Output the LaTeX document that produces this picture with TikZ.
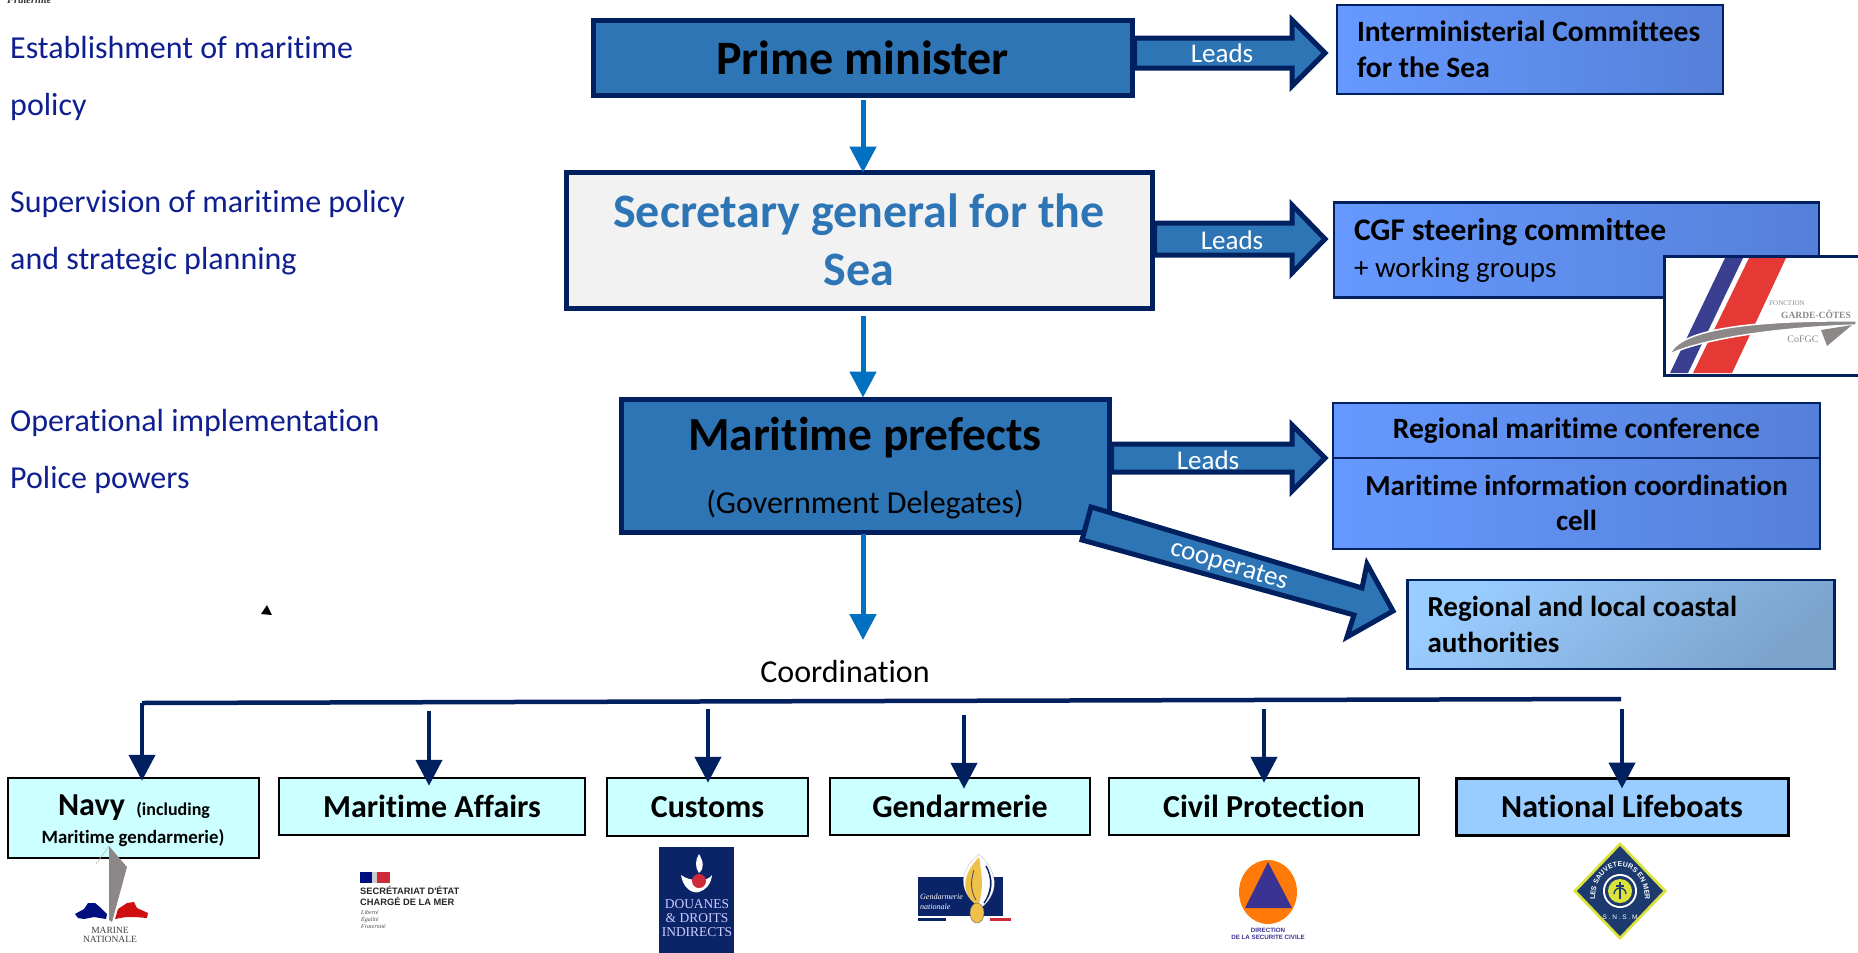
\documentclass[tikz,border=0pt]{standalone}
\usepackage{fontspec}
\setmainfont[Ligatures=NoCommon]{Carlito}
\newfontfamily\serifb{Liberation Serif}
\newfontfamily\arialn{Liberation Sans}
\usetikzlibrary{arrows.meta,calc,shapes.geometric,decorations.text}
\definecolor{navyb}{HTML}{002060}
\definecolor{midb}{HTML}{2E75B6}
\definecolor{lineb}{HTML}{0070C0}
\definecolor{sideb}{HTML}{0F1F8F}
\definecolor{cyanb}{HTML}{CCFFFF}
\definecolor{skyb}{HTML}{99CCFF}
\definecolor{skyd}{HTML}{7BA3CC}
\definecolor{grayl}{HTML}{8C8888}
\definecolor{blueL}{HTML}{6699FF}
\definecolor{blueR}{HTML}{5580D8}
\definecolor{HTML3A}{HTML}{3A3F8F}
\definecolor{HTMLE3}{HTML}{E53935}
\definecolor{HTMLN}{HTML}{000F80}
\definecolor{HTMLR}{HTML}{D01010}
\definecolor{HTMLRR}{HTML}{CE2A3A}
\definecolor{HTMLD}{HTML}{0B2468}
\definecolor{HTMLG}{HTML}{EFC04A}
\definecolor{HTMLO}{HTML}{FF7A08}
\definecolor{HTMLV}{HTML}{3A3394}
\definecolor{HTMLY}{HTML}{DCE23C}
\definecolor{HTMLS}{HTML}{1C3A6E}
\newcommand{\fs}[1]{\fontsize{#1}{#1}\selectfont}
\newcommand{\fsl}[2]{\fontsize{#1}{#2}\selectfont}
\tikzset{
  x=1pt,y=-1pt,
  mainbox/.style={draw=navyb,line width=5pt,fill=midb,inner sep=0pt,align=center,line join=miter},
  gradbox/.style={draw=navyb,line width=2.5pt,left color=blueL,right color=blueR,inner sep=0pt},
  orgbox/.style={draw=black,line width=2.5pt,fill=cyanb,inner sep=0pt,align=center,font=\bfseries\fs{32}},
  sidetext/.style={text=sideb,align=left,anchor=west,inner sep=0pt,font=\fsl{32}{57}},
  blockarrow/.style={draw=navyb,line width=5pt,fill=midb,line join=miter,miter limit=10},
  leadlabel/.style={text=white,inner sep=0pt,font=\fs{27}},
  flowarrow/.style={draw=lineb,line width=5pt,-{Triangle[length=26pt,width=26pt]}},
  droparrow/.style={draw=navyb,line width=4.5pt,-{Triangle[length=26pt,width=26pt]}},
}
\newcommand{\blockarrow}[4]{% start, tip, shaft half, head half
  \draw[blockarrow] ($(#1)+(0,-#3)$) -- ($(#2)+(-33,-#3)$) -- ($(#2)+(-33,-#4)$) -- (#2)
     -- ($(#2)+(-33,#4)$) -- ($(#2)+(-33,#3)$) -- ($(#1)+(0,#3)$) -- cycle;}
\begin{document}
\begin{tikzpicture}
\useasboundingbox (0,0) rectangle (1858,953);
\clip (0,0) rectangle (1858,953);
\fill[white] (0,0) rectangle (1858,953);

% clipped fragment at the top
\node[anchor=base west,inner sep=0pt,text=black!80,font=\serifb\bfseries\itshape\fs{10.5}] (frat) at (7,3) {Fraternité};

% left column
\node[sidetext] (s1) at (10,78) {Establishment of maritime\\policy};
\node[sidetext] (s2) at (10,233) {Supervision of maritime policy\\and strategic planning};
\node[sidetext] (s3) at (10,451) {Operational implementation\\Police powers};

% main boxes
\node[mainbox,minimum width=539pt,minimum height=75pt,font=\bfseries\fs{48}] (pm) at (862.5,57.5) {Prime minister};
\node[mainbox,fill=black!5,text=midb,minimum width=586pt,minimum height=136pt,font=\bfseries\fsl{48}{58}] (sg) at (859,240) {Secretary general for the\\Sea};
\node[mainbox,minimum width=488pt,minimum height=133pt] (mp) at (865,465.5)
  {\rule{0pt}{6pt}\\[-2pt]\bfseries\fs{47.5}Maritime prefects\\[31pt]\fs{32}\mdseries(Government Delegates)};

% right boxes
\node[gradbox,minimum width=386pt,minimum height=89pt,inner xsep=20pt,text width=346pt,align=flush left,font=\bfseries\fsl{29.5}{36}] (imc) at (1530,49.5) {Interministerial Committees\\for the Sea};
\node[gradbox,minimum width=485pt,minimum height=95pt,inner xsep=20pt,text width=445pt,align=flush left,font=\fsl{29}{37}] (cgf) at (1576.5,250) {{\bfseries\fs{31.5}CGF steering committee}\\+ working groups};
\node[gradbox,minimum width=487pt,minimum height=55pt,align=center,font=\bfseries\fs{29.5}] (rc1) at (1576.5,430.5) {Regional maritime conference};
\node[gradbox,minimum width=487pt,minimum height=91pt,align=center,font=\bfseries\fsl{29}{35}] (rc2) at (1576.5,503.5) {\raisebox{1pt}{Maritime information coordination}\\\raisebox{1pt}{cell}};
\node[draw=navyb,line width=2.5pt,left color=skyb,right color=skyd,shading angle=40,inner sep=0pt,minimum width=427pt,minimum height=89pt,inner xsep=20pt,text width=387pt,align=flush left,font=\bfseries\fsl{29}{36}] (rla) at (1621,624.5) {Regional and local coastal\\authorities};

% block arrows
\coordinate (t1) at (1325,53);
\coordinate (t2) at (1325,239);
\coordinate (t3) at (1325,458);
\blockarrow{pm.east |- t1}{t1}{15}{33}
\blockarrow{sg.east |- t2}{t2}{16}{34}
\blockarrow{mp.east |- t3}{t3}{14}{33}
\node[leadlabel] (l1) at (1222,53) {Leads};
\node[leadlabel] (l2) at (1232,240) {Leads};
\node[leadlabel] (l3) at (1208,460) {Leads};

\coordinate (c1) at (1091,507);
\coordinate (c2) at (1082,540);
\coordinate (c3) at (1362,588);
\coordinate (c4) at (1367,564);
\coordinate (c5) at (1393,611);
\coordinate (c6) at (1347,637);
\coordinate (c7) at (1354,615);
\draw[blockarrow] (c1) -- (c3) -- (c4) -- (c5) -- (c6) -- (c7) -- (c2) -- cycle;
\node[leadlabel,rotate=-17] (l4) at (1229,566) {cooperates};

% blue flow arrows
\coordinate (f1) at (863,100);
\draw[flowarrow,shorten >=-3pt] (f1) -- (f1 |- sg.north);
\coordinate (f2) at (863,316);
\draw[flowarrow,shorten >=-1pt] (f2) -- (f2 |- mp.north);
\coordinate (f3) at (863,534);
\coordinate (f3e) at (863,640);
\draw[flowarrow] (f3) -- (f3e);

\node[inner sep=0pt,font=\fs{32}] (coord) at (845,671) {Coordination};

% coordination bar
\coordinate (b0) at (142,703);
\coordinate (b7) at (1621,699);
\draw[navyb,line width=4.5pt] (b0) -- (b7);

% organisation boxes
\node[orgbox,minimum width=251pt,minimum height=80pt] (navy) at (133.5,818) {};
\node[inner sep=0pt,font=\bfseries\fs{32}] (navyt) at (134,808) {Navy {\fs{18} (including}};
\node[inner sep=0pt,font=\bfseries\fs{18.8}] (navyu) at (133,838) {Maritime gendarmerie)};
\node[orgbox,minimum width=306pt,minimum height=57pt] (maff) at (432,806.5) {Maritime Affairs};
\node[orgbox,minimum width=201pt,minimum height=58pt] (cust) at (707.5,807) {Customs};
\node[orgbox,minimum width=260pt,minimum height=57pt] (gend) at (960,806.5) {Gendarmerie};
\node[orgbox,minimum width=310pt,minimum height=57pt] (civ) at (1264,806.5) {Civil Protection};
\node[orgbox,fill=skyb,line width=3pt,minimum width=332pt,minimum height=57pt] (life) at (1622,806.5) {National Lifeboats};

% drop arrows
\coordinate (d1) at (142,703);
\coordinate (d2) at (429,711);
\coordinate (d3) at (708,709);
\coordinate (d4) at (964,715);
\coordinate (d5) at (1264,709);
\coordinate (d6) at (1622,709);
\draw[droparrow,shorten >=-4pt] (d1) -- (d1 |- navy.north);
\draw[droparrow,shorten >=-9pt] (d2) -- (d2 |- maff.north);
\draw[droparrow,shorten >=-6pt] (d3) -- (d3 |- cust.north);
\draw[droparrow,shorten >=-12pt] (d4) -- (d4 |- gend.north);
\draw[droparrow,shorten >=-6pt] (d5) -- (d5 |- civ.north);
\draw[droparrow,shorten >=-12pt] (d6) -- (d6 |- life.north);

% --- Garde-cotes logo ---
\draw[navyb,line width=3pt,fill=white] (1664,256) rectangle (1880,375);
\fill[HTML3A] (1725,258) -- (1743,258) -- (1688,373) -- (1670,373) -- cycle;
\fill[HTMLE3] (1749,258) -- (1786,258) -- (1732,373) -- (1693,373) -- cycle;
\fill[grayl,draw=white,line width=1.5pt] (1670,354) .. controls (1680,328) and (1760,320) .. (1856,321) -- (1856,325) .. controls (1770,328) and (1700,340) .. (1670,354) -- cycle;
\fill[grayl] (1852,325) -- (1827,346) -- (1821,330) -- cycle;
\node[inner sep=0pt,text=grayl,font=\serifb\fs{7}] (gc1) at (1787,303) {FONCTION};
\node[inner sep=0pt,text=grayl,font=\serifb\bfseries\fs{9.5}] (gc2) at (1816,314) {GARDE-CÔTES};
\node[inner sep=0pt,text=grayl,font=\serifb\fs{10}] (gc3) at (1803,339) {CoFGC};

% --- Marine nationale ---
\fill[grayl] (109,846) -- (127,867) -- (112,922) -- (109,920) -- cycle;
\draw[grayl!60,line width=.6pt] (109,846) -- (96,864);
\fill[HTMLN] (75,914) -- (84,909) -- (88,903) -- (95,903) -- (101,908) -- (107,914) -- (106,919) -- (94,917) -- (84,919) -- (78,918) -- cycle;
\fill[HTMLR] (115,919) -- (118,909) -- (127,903) -- (134,902) -- (137,908) -- (148,913) -- (147,918) -- (135,917) -- (126,917) -- cycle;
\node[inner sep=0pt,align=center,text=black!75,font=\serifb\fsl{9.5}{9.5}] (mn) at (110,935) {MARINE\\NATIONALE};

% --- Secretariat ---
\fill[HTMLN] (360,872) rectangle (372,883);
\fill[HTMLRR] (377,872) rectangle (390,883);
\fill[black!20] (372,872) rectangle (377,883);
\node[inner sep=0pt,anchor=north west,align=left,font=\arialn\bfseries\fsl{9.3}{11},text=black!85] (sec) at (360,886) {SECRÉTARIAT D'ÉTAT\\CHARGÉ DE LA MER};
\node[inner sep=0pt,anchor=north west,align=left,font=\serifb\itshape\fsl{6}{7},text=black!70] (sec2) at (361,910) {Liberté\\Égalité\\Fraternité};

% --- Douanes ---
\fill[HTMLD] (659,847) rectangle (734,953);
\fill[white] (699,854) .. controls (703,861) and (705,868) .. (699,873) .. controls (695,868) and (695,860) .. (699,854) -- cycle;
\fill[white] (681,875) .. controls (683,888) and (692,894) .. (699,892) .. controls (706,890) and (711,884) .. (712,875) .. controls (708,882) and (690,882) .. (681,875) -- cycle;
\fill[HTMLRR] (699,881) circle (7);
\node[inner sep=0pt,align=center,text=white!80!blue,font=\serifb\fsl{13.5}{14}] (dou) at (697,918) {DOUANES\\\& DROITS\\INDIRECTS};

% --- Gendarmerie ---
\fill[HTMLD] (918,877) rectangle (1003,916);
\fill[HTMLD] (918,918) rectangle (946,921);
\fill[HTMLRR] (990,918) rectangle (1011,921);
\fill[white,draw=black!30,line width=.3pt] (979,854) .. controls (998,872) and (1000,892) .. (981,908) .. controls (960,895) and (956,872) .. (979,854) -- cycle;
\fill[HTMLG] (979,857) .. controls (962,875) and (960,893) .. (978,906) .. controls (984,890) and (982,875) .. (979,857) -- cycle;
\draw[HTMLD,line width=1.4pt] (986,866) .. controls (993,878) and (992,892) .. (984,903);
\draw[HTMLD,line width=1pt] (990,876) .. controls (992,884) and (991,890) .. (988,897);
\draw[black!70,line width=.8pt] (974,870) .. controls (970,882) and (971,892) .. (976,900);
\fill[HTMLG,draw=black!60,line width=.4pt] (977,913) ellipse (7 and 10);
\node[inner sep=0pt,anchor=west,align=left,text=white,font=\serifb\itshape\fsl{8}{10}] (gn) at (920,902) {Gendarmerie\\nationale};

% --- Securite civile ---
\fill[HTMLO] (1268,892) ellipse (29 and 32);
\fill[HTMLV] (1268,862) -- (1292,908) -- (1245,908) -- cycle;
\node[inner sep=0pt,align=center,text=HTMLV,font=\arialn\bfseries\fsl{6.2}{7}] (dsc) at (1268,934) {DIRECTION\\DE LA SECURITE CIVILE};

% --- SNSM ---
\coordinate (sn) at (1620,891);
\fill[HTMLY] ($(sn)+(0,-49)$) -- ($(sn)+(47,0)$) -- ($(sn)+(0,49)$) -- ($(sn)+(-47,0)$) -- cycle;
\fill[HTMLS] ($(sn)+(0,-45)$) -- ($(sn)+(43,0)$) -- ($(sn)+(0,45)$) -- ($(sn)+(-43,0)$) -- cycle;
\fill[white] (sn) circle (17);
\fill[HTMLS] (sn) circle (15);
\fill[HTMLY] (sn) circle (12);
\fill[HTMLS] ($(sn)+(-1,-9)$) rectangle ($(sn)+(1,8)$);
\draw[HTMLS,line width=1.3pt] ($(sn)+(-6,3)$) arc[start angle=180,end angle=360,radius=6];
\fill[HTMLS] ($(sn)+(-4,-6)$) rectangle ($(sn)+(4,-4.5)$);
\path[postaction={decorate,decoration={text along path,text align=center,text={|\arialn\bfseries\fs{7}\color{white}|LES SAUVETEURS EN MER}}}]
  ($(sn)+(-25,8)$) .. controls ($(sn)+(-24,-35)$) and ($(sn)+(24,-35)$) .. ($(sn)+(25,8)$);
\node[inner sep=0pt,text=white,font=\arialn\fs{6.5}] (snsm) at (1620,917) {S . N . S . M};

% stray mark
\fill[black] (267,605) -- (272,615) -- (261,614) -- cycle;
\end{tikzpicture}
\end{document}
